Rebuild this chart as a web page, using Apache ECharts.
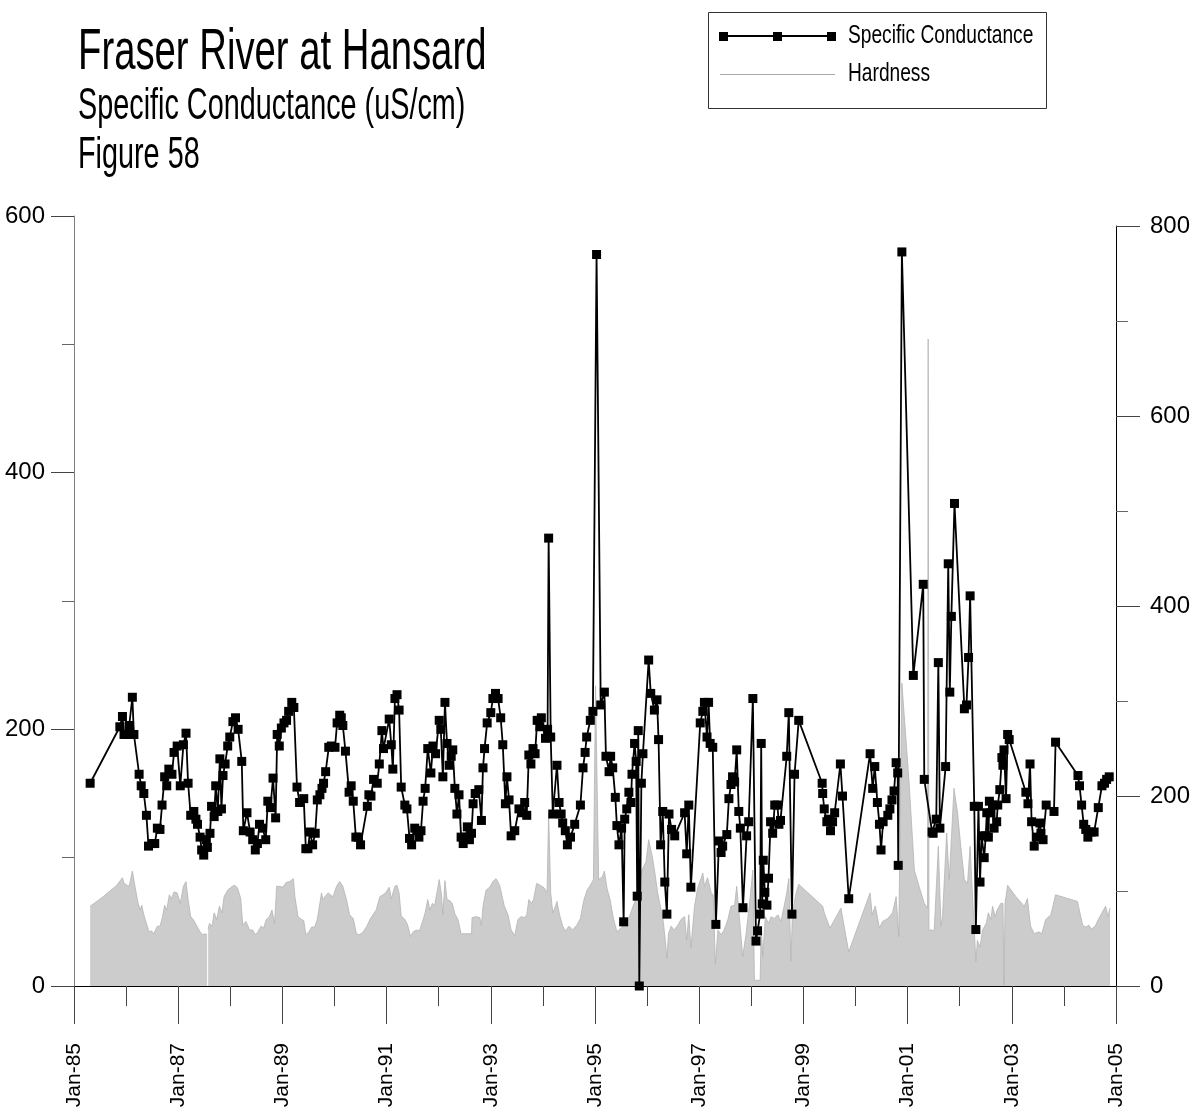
<!DOCTYPE html>
<html><head><meta charset="utf-8">
<script src="https://cdn.jsdelivr.net/npm/echarts@6/dist/echarts.min.js"></script>
<style>html,body{margin:0;padding:0;background:#fff}#c{width:1196px;height:1113px}</style>
</head><body><div id="c"></div>
<script>
const titleLines = ['Fraser River at Hansard', 'Specific Conductance (uS/cm)', 'Figure 58'];
const seriesNames = ['Specific Conductance', 'Hardness'];
const xTickLabels = ['Jan-85','Jan-87','Jan-89','Jan-91','Jan-93','Jan-95','Jan-97','Jan-99','Jan-01','Jan-03','Jan-05'];

const scYears = [
1985.31,1985.88,1985.93,1985.96,1986.02,1986.06,1986.12,1986.15,1986.25,1986.29,1986.34,1986.39,1986.43,1986.50,1986.55,1986.60,1986.65,1986.69,1986.74,1986.78,
1986.82,1986.88,1986.92,1986.98,1987.04,1987.10,1987.15,1987.19,1987.24,1987.30,1987.34,1987.37,1987.42,1987.45,1987.49,1987.54,1987.56,1987.61,1987.64,1987.69,
1987.72,1987.76,1987.80,1987.83,1987.86,1987.90,1987.95,1987.99,1988.05,1988.10,1988.15,1988.22,1988.25,1988.32,1988.38,1988.43,1988.48,1988.52,1988.56,1988.62,
1988.68,1988.72,1988.77,1988.82,1988.87,1988.90,1988.94,1988.98,1989.03,1989.08,1989.12,1989.18,1989.22,1989.28,1989.33,1989.41,1989.45,1989.49,1989.53,1989.58,
1989.63,1989.67,1989.72,1989.76,1989.79,1989.83,1989.89,1989.94,1990.01,1990.05,1990.10,1990.13,1990.16,1990.21,1990.28,1990.32,1990.36,1990.41,1990.46,1990.50,
1990.63,1990.66,1990.70,1990.75,1990.82,1990.86,1990.91,1990.94,1991.05,1991.09,1991.12,1991.16,1991.20,1991.24,1991.28,1991.35,1991.39,1991.44,1991.48,1991.54,
1991.58,1991.62,1991.66,1991.70,1991.74,1991.79,1991.85,1991.89,1991.94,1992.01,1992.04,1992.08,1992.12,1992.16,1992.20,1992.24,1992.27,1992.31,1992.35,1992.39,
1992.43,1992.47,1992.52,1992.55,1992.59,1992.63,1992.66,1992.70,1992.77,1992.82,1992.85,1992.88,1992.93,1993.00,1993.04,1993.09,1993.14,1993.19,1993.23,1993.28,
1993.31,1993.35,1993.39,1993.46,1993.54,1993.60,1993.65,1993.69,1993.73,1993.77,1993.81,1993.85,1993.89,1993.94,1993.97,1994.05,1994.09,1994.11,1994.15,1994.19,
1994.27,1994.31,1994.35,1994.38,1994.43,1994.47,1994.53,1994.61,1994.72,1994.77,1994.81,1994.84,1994.91,1994.96,1995.03,1995.11,1995.18,1995.21,1995.27,1995.30,
1995.34,1995.39,1995.42,1995.46,1995.51,1995.55,1995.57,1995.61,1995.65,1995.69,1995.71,1995.76,1995.79,1995.81,1995.83,1995.85,1995.89,1995.92,1996.03,1996.07,
1996.14,1996.19,1996.22,1996.26,1996.30,1996.34,1996.38,1996.42,1996.47,1996.53,1996.72,1996.76,1996.80,1996.84,1997.02,1997.07,1997.10,1997.15,1997.18,1997.21,
1997.26,1997.32,1997.38,1997.42,1997.45,1997.53,1997.57,1997.61,1997.64,1997.68,1997.72,1997.76,1997.79,1997.84,1997.91,1997.95,1998.03,1998.09,1998.12,1998.17,
1998.19,1998.21,1998.23,1998.26,1998.30,1998.33,1998.37,1998.41,1998.45,1998.50,1998.53,1998.56,1998.68,1998.72,1998.78,1998.83,1998.91,1999.36,1999.37,1999.40,
1999.45,1999.48,1999.52,1999.56,1999.60,1999.71,1999.75,1999.87,2000.28,2000.33,2000.37,2000.42,2000.46,2000.49,2000.53,2000.62,2000.66,2000.70,2000.74,2000.78,
2000.81,2000.82,2000.89,2001.11,2001.30,2001.32,2001.47,2001.49,2001.55,2001.59,2001.62,2001.73,2001.78,2001.81,2001.84,2001.90,2002.09,2002.13,2002.17,2002.20,
2002.28,2002.31,2002.36,2002.39,2002.42,2002.47,2002.50,2002.52,2002.55,2002.57,2002.60,2002.63,2002.66,2002.71,2002.73,2002.77,2002.81,2002.83,2002.85,2002.89,
2002.92,2002.95,2003.27,2003.31,2003.35,2003.38,2003.43,2003.47,2003.54,2003.56,2003.60,2003.66,2003.81,2003.84,2004.27,2004.30,2004.34,2004.38,2004.42,2004.46,
2004.52,2004.58,2004.66,2004.73,2004.78,2004.82,2004.87
];
const scValues = [
158,202,210,196,196,203,225,196,165,156,150,133,109,111,111,123,122,141,163,156,
169,165,182,187,156,188,197,158,133,136,130,126,116,106,102,114,108,119,140,132,
156,136,177,138,164,173,187,194,206,209,200,175,121,135,120,114,106,111,126,123,
114,144,139,162,131,196,187,201,205,207,214,221,217,155,143,146,107,107,120,110,
119,145,149,154,158,167,186,187,186,205,211,209,203,183,151,156,144,116,116,110,
140,149,148,161,158,173,199,185,208,188,169,224,227,215,155,141,138,115,110,123,
121,116,121,144,154,185,166,187,181,207,200,163,221,189,172,179,184,154,134,149,
116,111,116,124,114,119,142,150,153,129,170,185,205,213,224,228,224,209,188,142,
163,145,117,121,138,135,143,133,180,173,185,181,207,202,209,193,200,349,194,134,
172,143,134,127,121,110,116,126,141,170,182,194,207,214,570,219,229,179,167,179,
170,147,125,110,123,50,130,138,151,143,165,189,175,70,199,0,158,181,254,228,
215,223,192,110,136,81,56,134,122,117,135,103,141,77,205,214,221,194,221,189,
186,48,113,104,109,118,146,157,163,159,184,136,123,61,117,128,224,35,43,56,
189,64,98,73,63,84,128,119,141,141,126,129,179,213,56,165,207,158,150,138,
128,130,121,128,135,173,148,68,181,154,171,143,126,106,128,133,138,145,152,174,
166,94,572,242,313,161,120,119,130,252,123,171,329,229,288,376,216,219,256,304,
140,44,140,81,117,100,117,135,116,144,135,141,123,128,141,153,178,172,184,146,
196,192,151,142,173,128,109,116,127,119,114,141,136,190,164,156,141,126,122,116,
120,120,139,156,158,161,163
];

const hdYears = [
1985.31,1985.56,1985.82,1985.93,1985.96,1986.02,1986.06,1986.12,1986.17,1986.23,1986.27,1986.30,1986.34,1986.39,1986.44,1986.49,1986.53,1986.60,1986.65,1986.70,
1986.74,1986.78,1986.83,1986.87,1986.92,1986.98,1987.04,1987.10,1987.15,1987.19,1987.24,1987.29,1987.35,1987.42,1987.47,1987.51,1987.555,1987.565,1987.575,1987.60,
1987.65,1987.69,1987.74,1987.79,1987.84,1987.88,1987.95,1988.04,1988.09,1988.14,1988.20,1988.24,1988.30,1988.37,1988.43,1988.48,1988.53,1988.59,1988.64,1988.69,
1988.75,1988.80,1988.85,1988.89,1988.94,1989.01,1989.07,1989.14,1989.21,1989.24,1989.30,1989.37,1989.41,1989.45,1989.51,1989.56,1989.62,1989.67,1989.70,1989.75,
1989.78,1989.83,1989.88,1989.92,1989.97,1990.04,1990.10,1990.16,1990.23,1990.29,1990.36,1990.42,1990.48,1990.55,1990.62,1990.69,1990.75,1990.80,1990.87,1990.93,
1990.98,1991.05,1991.09,1991.16,1991.20,1991.24,1991.28,1991.35,1991.40,1991.46,1991.51,1991.57,1991.63,1991.69,1991.74,1991.79,1991.83,1991.88,1991.92,1992.01,
1992.05,1992.08,1992.12,1992.16,1992.21,1992.26,1992.31,1992.37,1992.43,1992.50,1992.56,1992.63,1992.64,1992.72,1992.79,1992.82,1992.85,1992.91,1992.98,1993.04,
1993.10,1993.17,1993.20,1993.26,1993.33,1993.39,1993.46,1993.52,1993.58,1993.65,1993.69,1993.73,1993.78,1993.82,1993.88,1993.95,1994.03,1994.08,1994.11,1994.15,
1994.19,1994.24,1994.27,1994.32,1994.38,1994.43,1994.50,1994.57,1994.65,1994.72,1994.78,1994.84,1994.91,1994.97,1995.01,1995.07,1995.14,1995.18,1995.23,1995.29,
1995.35,1995.42,1995.48,1995.55,1995.60,1995.66,1995.73,1995.78,1995.84,1995.90,1995.98,1996.03,1996.10,1996.15,1996.20,1996.25,1996.30,1996.35,1996.38,1996.41,
1996.46,1996.52,1996.59,1996.65,1996.72,1996.76,1996.80,1996.84,1996.91,1996.97,1997.07,1997.10,1997.16,1997.23,1997.27,1997.31,1997.36,1997.42,1997.48,1997.55,
1997.61,1997.68,1997.72,1997.77,1997.835,1997.90,1997.96,1998.03,1998.06,1998.08,1998.17,1998.19,1998.22,1998.27,1998.33,1998.38,1998.44,1998.51,1998.57,1998.63,
1998.68,1998.72,1998.76,1998.79,1998.86,1998.91,1999.37,1999.40,1999.51,1999.63,1999.72,1999.87,2000.28,2000.32,2000.38,2000.46,2000.52,2000.62,2000.71,2000.78,
2000.83,2000.89,2001.03,2001.13,2001.22,2001.32,2001.383,2001.395,2001.41,2001.45,2001.51,2001.59,2001.64,2001.67,2001.75,2001.80,2001.89,2001.96,2002.02,2002.09,
2002.15,2002.20,2002.23,2002.28,2002.31,2002.34,2002.39,2002.44,2002.51,2002.55,2002.60,2002.63,2002.68,2002.72,2002.79,2002.83,2002.85,2002.87,2002.92,2003.08,
2003.24,2003.30,2003.36,2003.43,2003.52,2003.575,2003.65,2003.75,2003.84,2004.26,2004.36,2004.42,2004.48,2004.53,2004.60,2004.66,2004.73,2004.80,2004.85,2004.885
];
const hdValues = [
84,94,106,114,108,106,105,121,105,87,80,85,75,66,57,58,55,63,63,73,
85,80,96,92,99,98,87,105,110,91,73,70,64,57,54,55,54,null,60,66,
63,77,70,84,77,94,101,105,106,103,92,64,68,59,59,54,57,63,61,70,
73,80,66,105,105,104,109,110,113,94,73,70,69,54,57,62,62,70,68,98,
91,95,98,96,94,105,110,105,91,75,71,55,54,57,63,71,76,80,94,96,
98,104,92,105,106,98,74,70,65,52,57,59,58,68,77,91,80,87,84,112,
98,75,111,91,90,87,76,70,55,55,55,55,72,73,72,64,84,101,104,110,
113,106,105,84,75,59,53,70,73,72,75,91,87,91,108,106,103,98,182,98,
77,84,89,75,63,58,63,59,64,71,89,100,106,112,316,112,115,121,103,91,
72,57,60,64,70,73,84,91,103,122,131,154,136,119,99,85,73,48,29,55,
63,59,64,70,73,48,75,40,84,103,119,105,114,98,96,23,59,54,59,70,
84,85,105,73,31,55,84,122,6,6,6,63,31,73,66,73,71,75,68,84,
98,113,26,77,98,107,84,77,61,73,82,36,98,75,84,61,68,71,77,94,
52,319,213,122,105,87,82,681,59,59,58,147,63,73,161,112,208,182,147,112,
108,147,112,59,26,48,41,59,66,77,70,84,73,80,87,87,1,87,106,94,
84,92,63,55,57,55,70,75,96,89,64,62,64,60,63,70,77,84,73,82
];

const scData = scYears.map((y, i) => [y, scValues[i]]);
const hdData = hdYears.map((y, i) => [y, hdValues[i]]);

const FONT = '"Liberation Sans", Arial, sans-serif';

const chart = echarts.init(document.getElementById('c'), null, {renderer: 'canvas'});
chart.setOption({
  animation: false,
  backgroundColor: '#fff',
  graphic: [
    {type: 'text', x: 78, y: 24, scaleX: 0.66, style: {text: titleLines[0], font: '58px ' + FONT, fill: '#000', verticalAlign: 'top'}},
    {type: 'text', x: 78, y: 84, scaleX: 0.64, style: {text: titleLines[1], font: '45px ' + FONT, fill: '#000', verticalAlign: 'top'}},
    {type: 'text', x: 78, y: 133, scaleX: 0.64, style: {text: titleLines[2], font: '45px ' + FONT, fill: '#000', verticalAlign: 'top'}},
    // legend box
    {type: 'rect', shape: {x: 708.5, y: 12.5, width: 338, height: 96}, style: {fill: '#fff', stroke: '#333', lineWidth: 1}},
    {type: 'line', shape: {x1: 720, y1: 36, x2: 835, y2: 36}, style: {stroke: '#000', lineWidth: 2}},
    {type: 'rect', shape: {x: 719, y: 32, width: 9, height: 9}, style: {fill: '#000'}},
    {type: 'rect', shape: {x: 773, y: 32, width: 9, height: 9}, style: {fill: '#000'}},
    {type: 'rect', shape: {x: 827, y: 32, width: 9, height: 9}, style: {fill: '#000'}},
    {type: 'text', x: 848, y: 36, scaleX: 0.737, style: {text: seriesNames[0], font: '26px ' + FONT, fill: '#000', verticalAlign: 'middle'}},
    {type: 'line', shape: {x1: 720, y1: 74.5, x2: 835, y2: 74.5}, style: {stroke: '#aaaaaa', lineWidth: 1}},
    {type: 'text', x: 848, y: 74, scaleX: 0.737, style: {text: seriesNames[1], font: '26px ' + FONT, fill: '#000', verticalAlign: 'middle'}}
  ],
  grid: [
    {left: 74, right: 80, top: 216, bottom: 127, outerBoundsMode: 'none'},
    {left: 74, right: 80, top: 226, bottom: 127, outerBoundsMode: 'none'}
  ],
  xAxis: [
    {gridIndex: 0, type: 'value', min: 1985, max: 2005, interval: 2, z: 5,
     axisLine: {show: true, onZero: false, lineStyle: {color: '#000', width: 1}},
     axisTick: {show: true, length: 38, lineStyle: {color: '#444'}},
     minorTick: {show: true, splitNumber: 2, length: 20, lineStyle: {color: '#444'}},
     splitLine: {show: false}, minorSplitLine: {show: false},
     axisLabel: {rotate: 90, margin: 57, fontSize: 21, fontFamily: FONT, color: '#000',
       formatter: v => xTickLabels[Math.round((v - 1985) / 2)] || ''}},
    {gridIndex: 1, type: 'value', min: 1985, max: 2005, show: false}
  ],
  yAxis: [
    {gridIndex: 0, type: 'value', min: 0, max: 600, interval: 200, position: 'left', z: 5,
     axisLine: {show: true, lineStyle: {color: '#808080', width: 1}},
     axisTick: {show: true, length: 23, lineStyle: {color: '#444'}},
     minorTick: {show: true, splitNumber: 2, length: 12, lineStyle: {color: '#666'}},
     splitLine: {show: false},
     axisLabel: {fontSize: 24, margin: 29, fontFamily: FONT, color: '#000'}},
    {gridIndex: 1, type: 'value', min: 0, max: 800, interval: 200, position: 'right', z: 5,
     axisLine: {show: true, lineStyle: {color: '#000', width: 1}},
     axisTick: {show: true, length: 24, lineStyle: {color: '#444'}},
     minorTick: {show: true, splitNumber: 2, length: 12, lineStyle: {color: '#666'}},
     splitLine: {show: false},
     axisLabel: {fontSize: 24, margin: 34, fontFamily: FONT, color: '#000'}}
  ],
  series: [
    {name: seriesNames[1], type: 'line', xAxisIndex: 1, yAxisIndex: 1, data: hdData,
     symbol: 'none', connectNulls: false, z: 1,
     lineStyle: {color: '#b4b4b4', width: 0.8},
     itemStyle: {color: '#b4b4b4'},
     areaStyle: {color: '#cccccc', opacity: 1}},
    {name: seriesNames[0], type: 'line', xAxisIndex: 0, yAxisIndex: 0, data: scData,
     symbol: 'rect', symbolSize: 9, showSymbol: true, z: 3,
     lineStyle: {color: '#000', width: 1.8},
     itemStyle: {color: '#000'}}
  ]
});
</script></body></html>
